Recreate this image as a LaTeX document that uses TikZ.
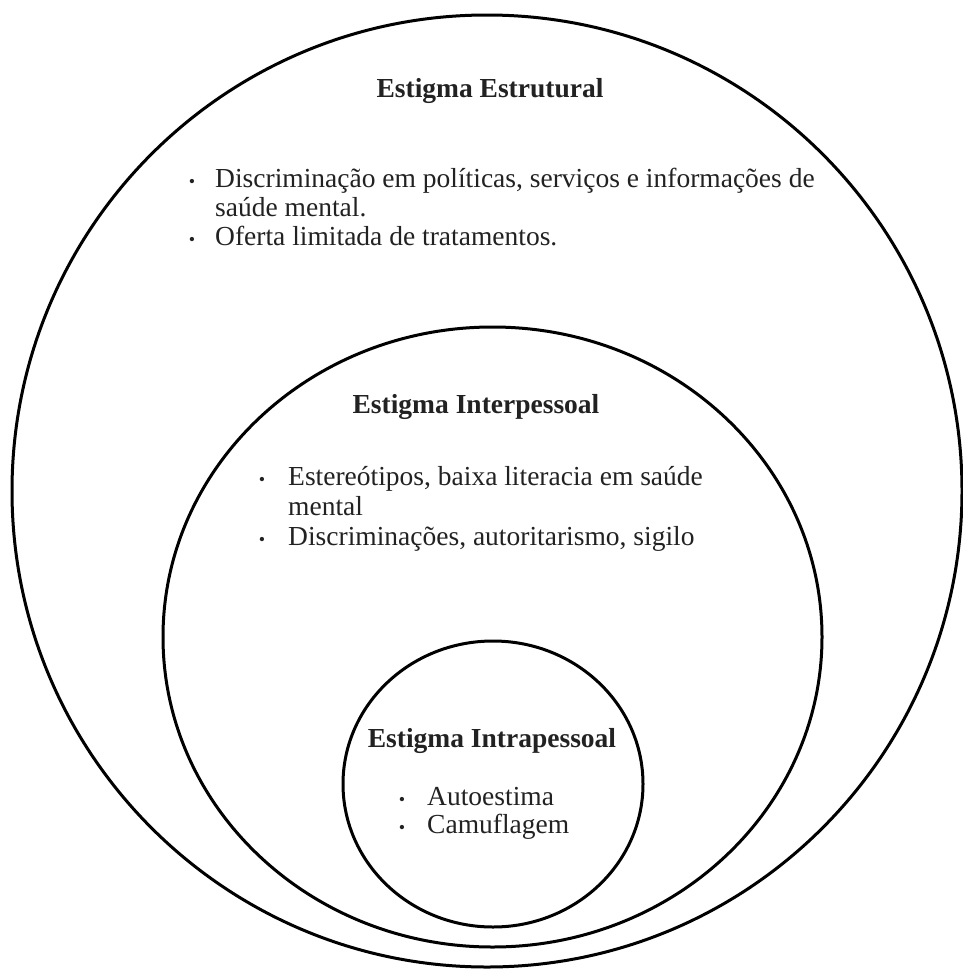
\documentclass[tikz,border=0pt]{standalone}
\usepackage{fontspec}
\setmainfont{Liberation Serif}
\usetikzlibrary{shapes.geometric}
\definecolor{ink}{HTML}{222222}
\begin{document}
\begin{tikzpicture}[x=1pt,y=-1pt,
  ring/.style={draw=black, line width=3pt, ellipse, inner sep=0pt, outer sep=0pt},
  ttl/.style={font=\fontsize{27.5}{29}\selectfont\bfseries, anchor=base, inner sep=0pt, text=ink},
  itemtext/.style={font=\fontsize{27.5}{29}\selectfont, anchor=base west, inner sep=0pt, text=ink},
  bul/.style={font=\fontsize{18}{18}\selectfont, anchor=base, inner sep=0pt, text=ink}]
\fill[white] (0,0) rectangle (962,969);
\useasboundingbox (0,0) rectangle (962,969);

% circles
\node[ring, minimum width=950pt, minimum height=952pt] (outer) at (487,491) {};
\node[ring, minimum width=659pt, minimum height=620pt] (middle) at (492.5,637) {};
\node[ring, minimum width=300pt, minimum height=286pt] (inner) at (493,784) {};

% Estrutural
\node[ttl] (t1) at (490,97) {Estigma Estrutural};
\node[bul] (b11) at (192,187) {•};
\node[itemtext] (l11) at (215,187) {Discriminação em políticas, serviços e informações de};
\node[itemtext] (l12) at (215,216) {saúde mental.};
\node[bul] (b12) at (192,245) {•};
\node[itemtext] (l13) at (215,245) {Oferta limitada de tratamentos.};

% Interpessoal
\node[ttl] (t2) at (476,413) {Estigma Interpessoal};
\node[bul] (b21) at (262,485) {•};
\node[itemtext] (l21) at (288,485) {Estereótipos, baixa literacia em saúde};
\node[itemtext] (l22) at (288,515) {mental};
\node[bul] (b22) at (262,545) {•};
\node[itemtext] (l23) at (288,545) {Discriminações, autoritarismo, sigilo};

% Intrapessoal
\node[ttl] (t3) at (492,747) {Estigma Intrapessoal};
\node[bul] (b31) at (402,805) {•};
\node[itemtext] (l31) at (427,805) {Autoestima};
\node[bul] (b32) at (402,833) {•};
\node[itemtext] (l32) at (427,833) {Camuflagem};
\end{tikzpicture}
\end{document}
